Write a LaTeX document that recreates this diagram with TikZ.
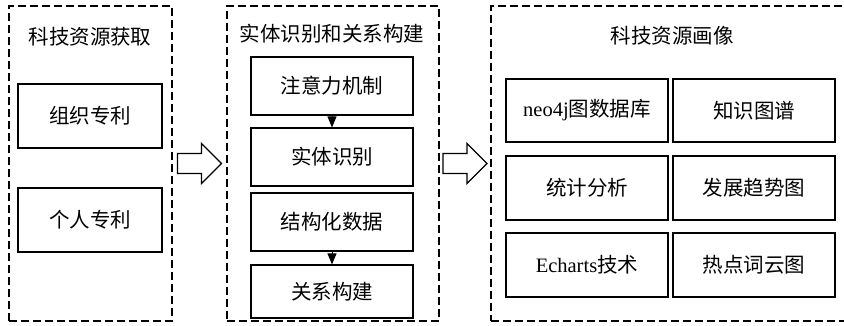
\documentclass[tikz,border=0pt]{standalone}
\usepackage{fontspec}
\setmainfont{Liberation Serif}
\newfontfamily\cjk{Noto Sans CJK SC}
\usetikzlibrary{arrows.meta,calc}
\begin{document}
\begin{tikzpicture}[x=1pt,y=-1pt,
  group/.style={draw, line width=1.2pt, dash pattern=on 8pt off 4pt},
  item/.style={draw, line width=1.2pt, inner sep=0pt, font=\fontsize{20.5}{22}\selectfont\cjk},
  ttl/.style={inner sep=0pt, font=\fontsize{20.5}{22}\selectfont\cjk},
  hollow/.style={draw, line width=1.1pt, line join=miter},
  flow/.style={-{Triangle[width=9pt,length=11pt]}, line width=1pt}]
\useasboundingbox (0,0) rectangle (844,325);
% groups
\node[group, minimum width=163pt, minimum height=315pt, inner sep=0pt] (g1) at (90.5,163.5) {};
\node[group, minimum width=212pt, minimum height=315pt, inner sep=0pt] (g2) at (333,163.5) {};
\node[group, minimum width=360pt, minimum height=315pt, inner sep=0pt] (g3) at (671,163.5) {};
% titles
\node[ttl] (t1) at (90,37) {科技资源获取};
\node[ttl] (t2) at (332,34) {实体识别和关系构建};
\node[ttl] (t3) at (672,36) {科技资源画像};
% left items
\node[item, minimum width=144pt, minimum height=64pt] (a1) at (90,116) {组织专利};
\node[item, minimum width=144pt, minimum height=64pt] (a2) at (90,220) {个人专利};
% middle items
\node[item, minimum width=162pt, minimum height=58pt] (b1) at (332,86) {注意力机制};
\node[item, minimum width=162pt, minimum height=58pt] (b2) at (332,157) {实体识别};
\node[item, minimum width=162pt, minimum height=58pt] (b3) at (332,222) {结构化数据};
\node[item, minimum width=162pt, minimum height=53pt] (b4) at (332,291.5) {关系构建};
\draw[flow] (b1.south) -- (b2.north);
\draw[flow] (b3.south) -- (b4.north);
% right grid
\node[item, minimum width=162pt, minimum height=63pt] (c1) at (587,110.5) {\rmfamily neo4j\cjk 图数据库};
\node[item, minimum width=162pt, minimum height=63pt] (c2) at (754,110.5) {知识图谱};
\node[item, minimum width=162pt, minimum height=64pt] (c3) at (587,188) {统计分析};
\node[item, minimum width=162pt, minimum height=64pt] (c4) at (754,188) {发展趋势图};
\node[item, minimum width=162pt, minimum height=64pt] (c5) at (587,265) {\rmfamily Echarts\cjk 技术};
\node[item, minimum width=162pt, minimum height=64pt] (c6) at (754,265) {热点词云图};
% hollow arrows
\coordinate (h1) at ($(g1.east)!0.5!(g2.west)$);
\coordinate (h2) at ($(g2.east)!0.5!(g3.west)$);
\foreach \h in {h1,h2}{
  \draw[hollow] ($(\h)+(-22,-10)$) -- ++(24,0) -- ++(0,-10) -- ++(20,20) -- ++(-20,20) -- ++(0,-10) -- ++(-24,0) -- cycle;
}
\end{tikzpicture}
\end{document}
